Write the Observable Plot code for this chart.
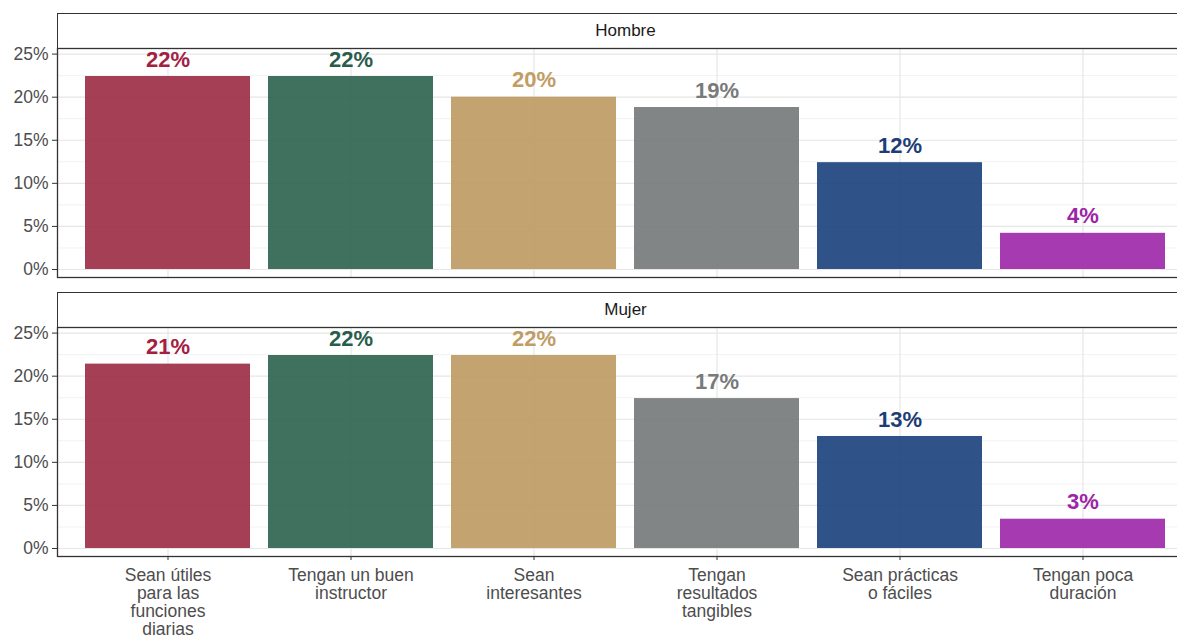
<!DOCTYPE html>
<html>
<head>
<meta charset="utf-8">
<script src="https://cdn.jsdelivr.net/npm/d3@7"></script>
<script src="https://cdn.jsdelivr.net/npm/@observablehq/plot@0.6"></script>
<style>
  html, body { margin: 0; padding: 0; background: #fff; overflow: hidden; }
  body { width: 1177px; height: 641px; position: relative; font-family: "Liberation Sans", Arial, sans-serif; }
  .strip { position: absolute; left: 57px; width: 1135px; height: 34px; border: 1.3px solid #333; border-bottom: none; box-sizing: content-box;
           font-size: 17px; color: #1a1a1a; display: flex; align-items: center; justify-content: center; background: #fff; }
  .panel { position: absolute; left: 0; width: 1200px; }
  .panel svg { max-width: none !important; }
</style>
</head>
<body>
<div class="strip" style="top:13px">Hombre</div>
<div class="panel" id="p1" style="top:47px"></div>
<div class="strip" style="top:292px">Mujer</div>
<div class="panel" id="p2" style="top:326px"></div>
<script>
const categories = [
  "Sean útiles para las funciones diarias",
  "Tengan un buen instructor",
  "Sean interesantes",
  "Tengan resultados tangibles",
  "Sean prácticas o fáciles",
  "Tengan poca duración"
];
const tickLabels = [
  "Sean útiles\npara las\nfunciones\ndiarias",
  "Tengan un buen\ninstructor",
  "Sean\ninteresantes",
  "Tengan\nresultados\ntangibles",
  "Sean prácticas\no fáciles",
  "Tengan poca\nduración"
];
const hombre = [22.4, 22.4, 20.0, 18.8, 12.4, 4.2];
const mujer  = [21.4, 22.4, 22.4, 17.4, 13.0, 3.4];
const colors = ["#9b2a44", "#2b604d", "#bd995f", "#747878", "#183f7b", "#9c25a7"];
const labelColors = ["#a3203f", "#2a5c4b", "#c19d66", "#7a7a7a", "#1d3d76", "#9c25a7"];
const yTicks = [0, 5, 10, 15, 20, 25];
const yMinor = [2.5, 7.5, 12.5, 17.5, 22.5];

const font = "Liberation Sans, Arial, sans-serif";

function panel(values, showX) {
  const data = categories.map((c, i) => ({cat: c, v: values[i], i}));
  const labelOf = new Map(categories.map((c, i) => [c, tickLabels[i]]));
  const marginBottom = showX ? 85 : 1;
  return Plot.plot({
    width: 1200,
    height: 1 + 229 + marginBottom,
    marginTop: 1,
    marginBottom,
    marginLeft: 57,
    marginRight: 8,
    style: {fontFamily: font, background: "transparent", overflow: "visible", maxWidth: "none"},
    x: {type: "band", domain: categories, paddingInner: 0.1, paddingOuter: 0.151, label: null, axis: null},
    y: {domain: [-0.93, 25.65], label: null, axis: null},
    color: {domain: categories, range: colors},
    marks: [
      Plot.gridY(yMinor, {stroke: "#f2f2f2", strokeOpacity: 1, strokeWidth: 1}),
      Plot.gridY(yTicks, {stroke: "#e6e6e6", strokeOpacity: 1, strokeWidth: 1.2}),
      Plot.gridX(categories, {stroke: "#e6e6e6", strokeOpacity: 1, strokeWidth: 1.2}),
      Plot.barY(data, {x: "cat", y: "v", fill: "cat", fillOpacity: 0.9}),
      Plot.text(data, {x: "cat", y: "v", text: d => Math.round(d.v) + "%", dy: -17,
        fill: d => labelColors[d.i], fontSize: 22, fontWeight: "bold", fontFamily: font}),
      Plot.axisY(yTicks, {tickFormat: d => d + "%", tickSize: 5, tickPadding: 4, stroke: "#333",
        fill: "#4d4d4d", fontSize: 17.5, label: null}),
      ...(showX ? [Plot.axisX({tickFormat: d => labelOf.get(d), tickSize: 4, tickPadding: 8,
        stroke: "#333", fill: "#4d4d4d", fontSize: 17.5, lineHeight: 1.03, label: null})] : []),
      Plot.frame({stroke: "#333", strokeWidth: 1.3})
    ]
  });
}

document.getElementById("p1").appendChild(panel(hombre, false));
document.getElementById("p2").appendChild(panel(mujer, true));
</script>
</body>
</html>
